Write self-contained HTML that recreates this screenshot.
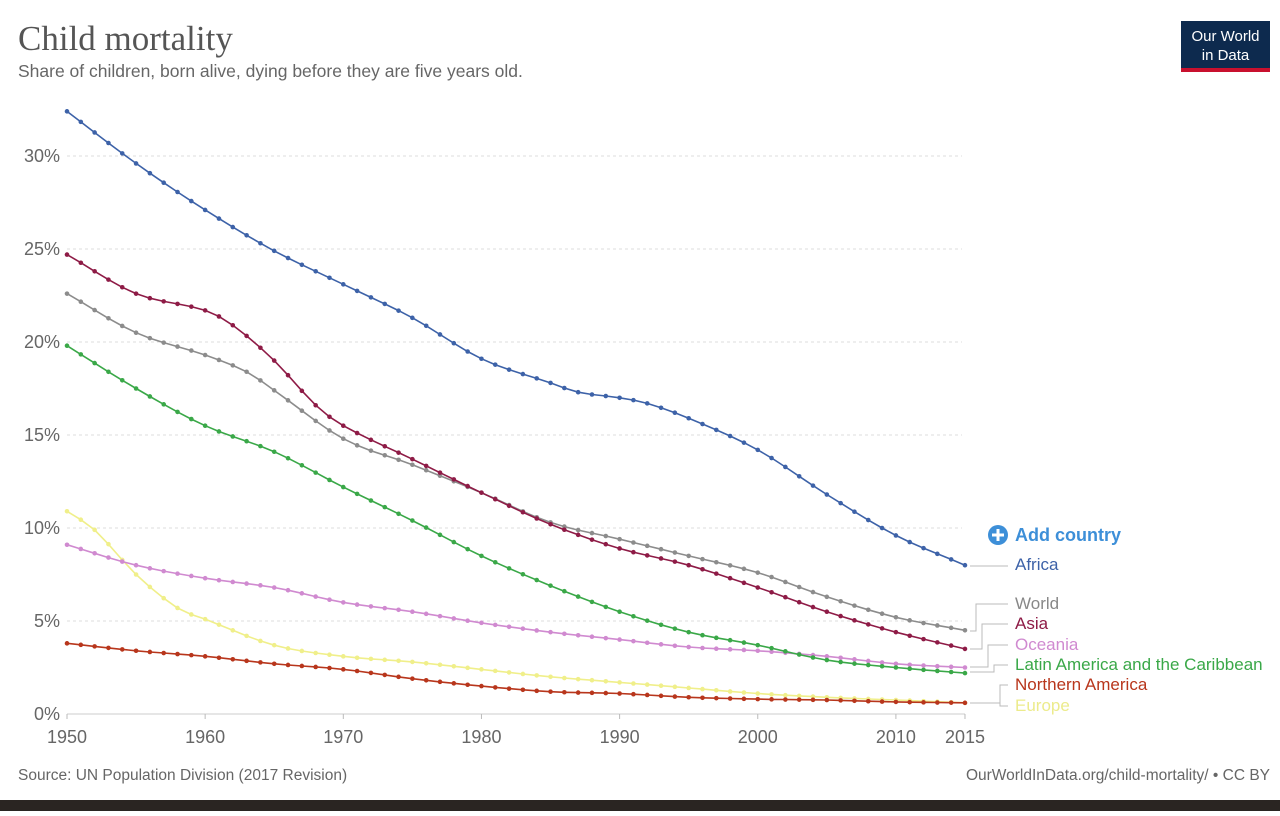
<!DOCTYPE html><html><head><meta charset="utf-8"><style>
body{margin:0;width:1280px;height:811px;background:#fff;overflow:hidden;font-family:"Liberation Sans",sans-serif}
</style></head><body>
<svg id="s" width="1280" height="811" xmlns="http://www.w3.org/2000/svg">
<rect x="0" y="800" width="1280" height="11" fill="#2a2522"/>
<text x="18" y="50" font-family="Liberation Serif,serif" font-size="35" fill="#555">Child mortality</text>
<text x="18" y="77" font-size="17.5" fill="#666">Share of children, born alive, dying before they are five years old.</text>
<rect x="1181" y="21" width="89" height="51" fill="#0d2a4e"/>
<rect x="1181" y="68" width="89" height="4" fill="#c8102e"/>
<text x="1225.5" y="41" font-size="15" fill="#fff" text-anchor="middle">Our World</text>
<text x="1225.5" y="60" font-size="15" fill="#fff" text-anchor="middle">in Data</text>
<g id="grid"></g><g id="series"></g>
<circle cx="998" cy="535" r="10" fill="#3d8fd8"/><path d="M992 535h12M998 529v12" stroke="#fff" stroke-width="3"/>
<text x="1015" y="541" font-size="18" font-weight="bold" fill="#3d8fd8">Add country</text>
<g font-size="17">
<text x="1015" y="570" fill="#3d62a8">Africa</text>
<text x="1015" y="609" fill="#888">World</text>
<text x="1015" y="629" fill="#8e1b46">Asia</text>
<text x="1015" y="650" fill="#d08ad0">Oceania</text>
<text x="1015" y="670" fill="#3aa848">Latin America and the Caribbean</text>
<text x="1015" y="690" fill="#b8361c">Northern America</text>
<text x="1015" y="711" fill="#eceb8c">Europe</text>
</g>
<g stroke="#bbb" fill="none" stroke-width="1">
<path d="M970 566H1008"/>
<path d="M970 631H976V604H1008"/>
<path d="M970 649H982V624H1008"/>
<path d="M970 667H988V645H1008"/>
<path d="M970 672H994V665H1008"/>
<path d="M970 703H1000V685H1008"/>
<path d="M1000 703V706H1008"/>
</g>
<text x="18" y="780" font-size="15.5" fill="#666">Source: UN Population Division (2017 Revision)</text>
<text x="1270" y="780" font-size="15.5" fill="#666" text-anchor="end">OurWorldInData.org/child-mortality/ • CC BY</text>
</svg>
<script>
const X=y=>67+(y-1950)*13.815, Y=v=>714-v*18.6;
let g='';
for(let i=0;i<=6;i++){const y=Y(i*5);
 if(i>0)g+=`<line x1="67" x2="962" y1="${y}" y2="${y}" stroke="#ddd" stroke-dasharray="3,3"/>`;
 g+=`<text x="60" y="${y+6}" font-size="18" fill="#666" text-anchor="end">${i*5}%</text>`;}
g+=`<line x1="67" x2="965" y1="714" y2="714" stroke="#ccc"/>`;
[1950,1960,1970,1980,1990,2000,2010,2015].forEach(t=>{g+=`<line x1="${X(t)}" x2="${X(t)}" y1="714" y2="719" stroke="#bbb"/><text x="${X(t)}" y="743" font-size="18" fill="#666" text-anchor="middle">${t}</text>`});
document.getElementById('grid').innerHTML=g;
const S=[
['#f0ef8a',[[1950,10.9],[1952,9.9],[1955,7.5],[1958,5.7],[1960,5.1],[1965,3.7],[1970,3.1],[1975,2.8],[1980,2.4],[1985,2.0],[1990,1.7],[1995,1.4],[2000,1.1],[2005,0.9],[2010,0.75],[2015,0.6]]],
['#d08ad0',[[1950,9.1],[1955,8.0],[1960,7.3],[1965,6.8],[1970,6.0],[1975,5.5],[1980,4.9],[1985,4.4],[1990,4.0],[1995,3.6],[2000,3.4],[2005,3.1],[2010,2.7],[2015,2.5]]],
['#b8361c',[[1950,3.8],[1955,3.4],[1960,3.1],[1965,2.7],[1970,2.4],[1975,1.9],[1980,1.5],[1985,1.2],[1990,1.1],[1995,0.9],[2000,0.8],[2005,0.75],[2010,0.65],[2015,0.6]]],
['#3aa848',[[1950,19.8],[1955,17.5],[1960,15.5],[1965,14.1],[1970,12.2],[1975,10.4],[1980,8.5],[1985,6.9],[1990,5.5],[1995,4.4],[2000,3.7],[2005,2.9],[2010,2.5],[2015,2.2]]],
['#8c8c8c',[[1950,22.6],[1955,20.5],[1960,19.3],[1963,18.4],[1965,17.4],[1970,14.8],[1975,13.4],[1980,11.9],[1985,10.3],[1990,9.4],[1995,8.5],[2000,7.6],[2005,6.3],[2010,5.2],[2015,4.5]]],
['#8e1b46',[[1950,24.7],[1955,22.6],[1960,21.7],[1962,20.9],[1965,19.0],[1968,16.6],[1970,15.5],[1975,13.7],[1980,11.9],[1985,10.2],[1990,8.9],[1995,8.0],[2000,6.8],[2005,5.5],[2010,4.4],[2015,3.5]]],
['#3d62a8',[[1950,32.4],[1955,29.6],[1960,27.1],[1965,24.9],[1970,23.1],[1975,21.3],[1980,19.1],[1985,17.8],[1987,17.3],[1990,17.0],[1992,16.7],[1995,15.9],[2000,14.2],[2005,11.8],[2010,9.6],[2015,8.0]]]];
function interp(k,t){for(let i=0;i<k.length-1;i++){if(t>=k[i][0]&&t<=k[i+1][0]){
 const p0=k[Math.max(0,i-1)],p1=k[i],p2=k[i+1],p3=k[Math.min(k.length-1,i+2)];
 const h=p2[0]-p1[0],u=(t-p1[0])/h;
 const m1=(p2[1]-p0[1])/(p2[0]-p0[0])*h,m2=(p3[1]-p1[1])/(p3[0]-p1[0])*h;
 const u2=u*u,u3=u2*u;
 return (2*u3-3*u2+1)*p1[1]+(u3-2*u2+u)*m1+(-2*u3+3*u2)*p2[1]+(u3-u2)*m2;}}return k[k.length-1][1];}
let o='';
S.forEach(([c,k])=>{let pts=[],d='';for(let t=1950;t<=2015;t++){const x=X(t),y=Y(interp(k,t));pts.push(x.toFixed(1)+','+y.toFixed(1));d+=`<circle cx="${x}" cy="${y}" r="2.3" fill="${c}"/>`;}
 o+=`<polyline points="${pts.join(' ')}" fill="none" stroke="${c}" stroke-width="1.6"/>`+d;});
document.getElementById('series').innerHTML=o;
</script>
</body></html>
